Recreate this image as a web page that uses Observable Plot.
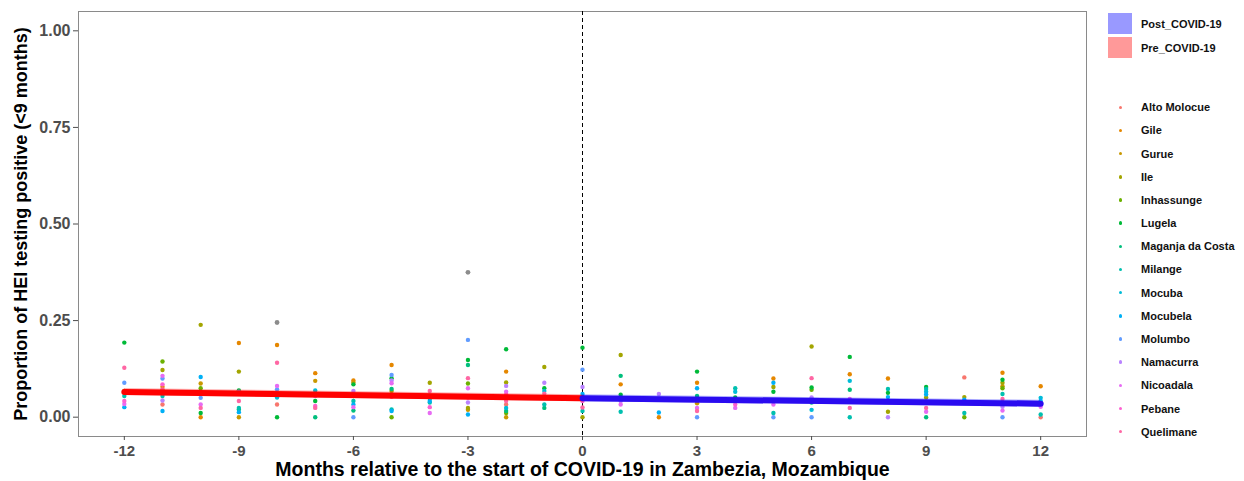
<!DOCTYPE html>
<html><head><meta charset="utf-8">
<script src="https://cdn.jsdelivr.net/npm/d3@7"></script>
<script src="https://cdn.jsdelivr.net/npm/@observablehq/plot@0.6"></script>
<style>
body{margin:0;background:#fff;font-family:"Liberation Sans",Arial,sans-serif;}
#wrap{position:relative;width:1244px;height:481px;overflow:hidden;background:#fff;}
#chart{position:absolute;left:0;top:0;}
.lg{position:absolute;font-size:11px;font-weight:bold;color:#111;white-space:nowrap;line-height:12px;}
.sw{position:absolute;}
.dt{position:absolute;border-radius:50%;}
</style></head><body>
<div id="wrap"><div id="chart"></div><div id="legend"></div></div>
<script>
// ---- data ----
const months = [-12,-11,-10,-9,-8,-7,-6,-5,-4,-3,-2,-1,0,1,2,3,4,5,6,7,8,9,10,11,12];
const districts = ["Alto Molocue","Gile","Gurue","Ile","Inhassunge","Lugela","Maganja da Costa","Milange","Mocuba","Mocubela","Molumbo","Namacurra","Nicoadala","Pebane","Quelimane"];
const palette = ["#F8766D","#E58700","#C99800","#A3A500","#6BB100","#00BA38","#00BF7D","#00C0AF","#00BCD8","#00B0F6","#619CFF","#B983FF","#E76BF3","#FD61D1","#FF67A4"];
const _ = null;
const altoMolocue    = [_,0.033,_,_,0.033,_,_,_,_,_,0.033,_,_,_,_,_,_,_,_,_,_,_,0.103,_,0.0];
const gile           = [_,0.079,0.0,0.192,0.187,0.114,0.095,0.135,_,_,0.118,_,_,0.085,0.0,0.089,_,0.1,_,0.111,0.1,_,_,0.115,0.08];
const gurue          = [_,_,0.087,0.0,_,0.094,0.09,_,_,0.019,0.0,_,_,_,_,0.036,_,_,_,_,_,_,_,0.08,_];
const ile            = [0.068,0.122,0.239,0.118,_,_,_,0.068,0.089,0.024,0.09,0.13,0.0,0.161,_,0.045,_,0.078,0.183,_,0.014,0.051,0.052,0.089,_];
const inhassunge     = [_,0.144,0.075,_,_,_,0.055,0.0,0.055,0.087,0.011,_,_,_,_,_,_,_,0.071,_,_,_,0.0,0.075,_];
const lugela         = [0.193,_,0.011,0.069,0.0,0.042,0.085,0.101,0.049,0.148,0.176,0.075,0.18,0.058,_,0.118,0.051,0.066,0.077,0.156,0.063,0.078,_,0.097,_];
const maganjaDaCosta = [_,_,_,0.02,_,0.0,0.017,0.073,_,0.135,0.016,0.024,_,0.107,_,0.055,_,_,0.038,0.071,_,0.0,_,_,_];
const milange        = [0.055,0.055,_,0.024,_,_,0.042,0.02,0.038,_,0.047,0.033,0.016,0.014,_,_,0.075,0.011,_,0.0,0.073,0.073,0.011,0.06,0.007];
const mocuba         = [_,_,_,_,0.051,0.069,_,_,_,_,0.024,0.068,_,_,_,_,0.066,_,0.019,0.094,_,0.066,_,_,0.05];
const mocubela       = [0.026,0.016,0.104,0.013,_,_,0.033,0.016,0.042,0.007,_,_,0.06,_,0.012,0.075,0.042,0.089,_,_,0.052,0.059,0.045,_,0.042];
const molumbo        = [0.089,0.10,0.05,0.066,0.072,_,0.0,0.109,_,0.2,_,_,0.123,_,_,0.0,_,0.0,0.0,_,_,_,_,0.0,_];
const namacurra      = [_,0.043,0.061,_,_,_,0.068,0.095,_,0.038,0.081,0.089,0.078,0.042,0.06,_,_,_,0.051,_,0.0,_,_,0.027,_];
const nicoadala      = [0.034,0.107,0.033,_,0.081,0.055,0.026,0.088,0.011,0.075,0.066,0.051,_,0.033,_,0.024,0.024,0.033,_,0.047,_,0.014,_,0.017,0.027];
const pebane         = [0.042,0.085,_,_,0.06,0.029,_,_,0.026,0.051,0.058,_,0.042,_,0.045,_,0.033,_,_,_,0.042,_,_,_,_];
const quelimane      = [0.128,0.072,0.024,0.042,0.141,0.024,_,0.053,0.068,0.101,0.042,0.061,0.025,_,_,0.016,_,_,0.101,0.024,_,0.024,_,0.047,_];
const unassigned     = [_,_,_,_,0.245,_,_,_,_,0.375,_,_,_,_,_,_,_,_,_,_,_,_,_,_,_];
const series = [altoMolocue,gile,gurue,ile,inhassunge,lugela,maganjaDaCosta,milange,mocuba,mocubela,molumbo,namacurra,nicoadala,pebane,quelimane];

const periods = ["Post_COVID-19","Pre_COVID-19"];
const preMonths = [-12, 0];
const preFit = [0.065, 0.049];
const postMonths = [0, 12];
const postFit = [0.049, 0.035];
const fitSE = [0.009, 0.009];

const xTicks = [-12,-9,-6,-3,0,3,6,9,12];
const yTicks = [0,0.25,0.5,0.75,1];
const xTitle = "Months relative to the start of COVID-19 in Zambezia, Mozambique";
const yTitle = "Proportion of HEI testing positive (<9 months)";

// ---- build tables ----
const points = [];
series.forEach((arr, k) => arr.forEach((v, i) => { if (v !== null) points.push({month: months[i], value: v, district: districts[k]}); }));
const gray = [];
unassigned.forEach((v, i) => { if (v !== null) gray.push({month: months[i], value: v}); });
const pre = preMonths.map((m, i) => ({month: m, fit: preFit[i], lo: preFit[i] - fitSE[i], hi: preFit[i] + fitSE[i]}));
const post = postMonths.map((m, i) => ({month: m, fit: postFit[i], lo: postFit[i] - fitSE[i], hi: postFit[i] + fitSE[i]}));

const font = '"Liberation Sans", Arial, sans-serif';
const chart = Plot.plot({
  width: 1095, height: 481,
  marginLeft: 78, marginRight: 9, marginTop: 11, marginBottom: 45,
  style: {fontFamily: font, background: "white", overflow: "visible"},
  x: {domain: [-13.2, 13.2]},
  y: {domain: [-0.05, 1.05]},
  color: {domain: districts, range: palette},
  marks: [
    Plot.frame({stroke: "#8a8a8a"}),
    Plot.axisX({ticks: xTicks, tickFormat: d => String(d), tickSize: 4, tickPadding: 5, fontSize: 15, fontWeight: "bold", color: "#4D4D4D", label: null}),
    Plot.axisY({ticks: yTicks, tickFormat: d3.format(".2f"), tickSize: 5, tickPadding: 3, fontSize: 16, fontWeight: "bold", color: "#4D4D4D", label: null}),
    Plot.ruleX([0], {stroke: "#000", strokeDasharray: "4,3", strokeWidth: 1}),
    Plot.dot(points, {x: "month", y: "value", fill: "district", r: 2.2, stroke: null}),
    Plot.dot(gray, {x: "month", y: "value", fill: "#8c8c8c", r: 2.4, stroke: null}),
    Plot.areaY(pre, {x: "month", y1: "lo", y2: "hi", fill: "#FF0000", fillOpacity: 0.3}),
    Plot.areaY(post, {x: "month", y1: "lo", y2: "hi", fill: "#0000FF", fillOpacity: 0.3}),
    Plot.line(pre, {x: "month", y: "fit", stroke: "#FF0000", strokeWidth: 6}),
    Plot.line(post, {x: "month", y: "fit", stroke: "#2A0BF0", strokeWidth: 6}),
    Plot.text([xTitle], {text: d => d, frameAnchor: "bottom", dy: 33, lineAnchor: "middle", textAnchor: "middle", fontSize: 19.5, fontWeight: "bold", fill: "#000"}),
    Plot.text([yTitle], {text: d => d, frameAnchor: "left", dx: -57, rotate: -90, textAnchor: "middle", lineAnchor: "middle", fontSize: 18, fontWeight: "bold", fill: "#000"})
  ]
});
document.getElementById("chart").appendChild(chart);

// ---- legends ----
const leg = document.getElementById("legend");
const periodFill = ["rgba(0,0,255,0.4)", "rgba(255,0,0,0.4)"];
periods.forEach((p, i) => {
  const s = document.createElement("div");
  s.className = "sw";
  Object.assign(s.style, {left: "1108px", top: (13 + i * 23.5) + "px", width: "24px", height: "21px", background: periodFill[i]});
  leg.appendChild(s);
  const t = document.createElement("div");
  t.className = "lg"; t.textContent = p;
  Object.assign(t.style, {left: "1141px", top: (18 + i * 23.5) + "px"});
  leg.appendChild(t);
});
districts.forEach((d, i) => {
  const cy = 107.3 + i * 23.17;
  const dot = document.createElement("div");
  dot.className = "dt";
  Object.assign(dot.style, {left: "1119px", top: (cy - 1.7) + "px", width: "3.4px", height: "3.4px", background: palette[i]});
  leg.appendChild(dot);
  const t = document.createElement("div");
  t.className = "lg"; t.textContent = d;
  Object.assign(t.style, {left: "1141px", top: (cy - 6) + "px"});
  leg.appendChild(t);
});
</script>
</body></html>
